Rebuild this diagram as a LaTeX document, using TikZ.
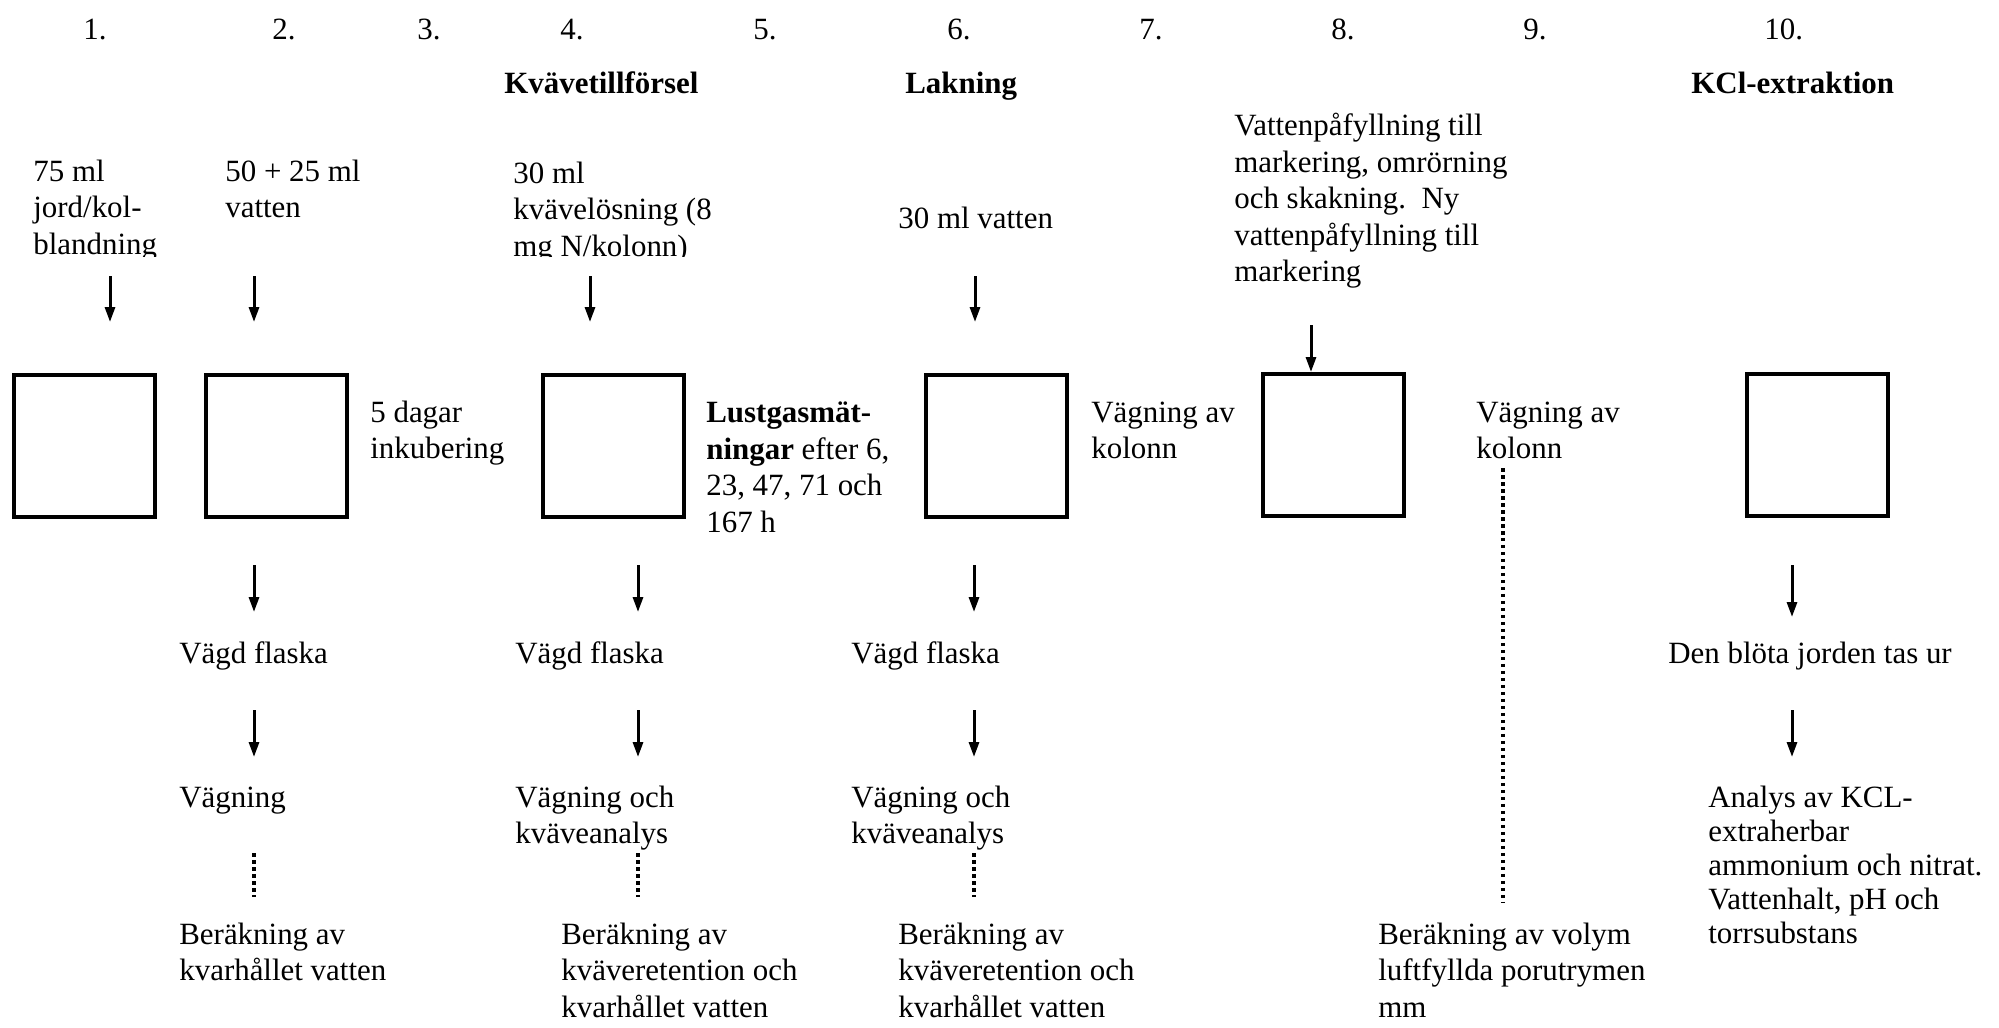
\documentclass[tikz,border=0pt]{standalone}
\usepackage{fontspec}
\setmainfont{Liberation Serif}
\usetikzlibrary{arrows.meta}

\begin{document}
\begin{tikzpicture}[x=0.02cm, y=-0.02cm,
  txt/.style={anchor=base west, inner sep=0pt, align=left, font=\fontsize{17.6pt}{20.8pt}\selectfont},
  fet/.style={txt, font=\fontsize{17.6pt}{20.8pt}\selectfont\bfseries},
  tett/.style={txt, font=\fontsize{17.6pt}{19.3pt}\selectfont},
  kolonn/.style={draw, line width=0.08cm, minimum width=2.82cm, minimum height=2.84cm, inner sep=0pt},
  pil/.style={-{Triangle[length=0.3cm,width=0.2cm]}, line width=0.06cm},
  prick/.style={line width=0.075cm, dash pattern=on 0.07cm off 0.07cm}]

  \useasboundingbox (0,0) rectangle (1999,1028);

  % --- steg 1-10 ---
  \foreach \nr/\x in {1/83,2/272,3/417,4/560,5/753,6/947,7/1139,8/1331,9/1523,10/1764}
    \node[txt] (n\nr) at (\x,39) {\nr.};

  % --- rubriker ---
  \node[fet] (h4) at (504,93) {Kvävetillförsel};
  \node[fet] (h6) at (905,93) {Lakning};
  \node[fet] (h10) at (1691,93) {KCl-extraktion};

  % --- tillsatser (nodes sit on the baseline of their last line) ---
  \begin{scope}
    \clip (0,0) rectangle (800,256);
    \node[txt] (t1) at (33,254.4) {75 ml\\jord/kol-\\blandning};
    \node[txt] (t4) at (513,256.4) {30 ml\\kvävelösning (8\\mg N/kolonn)};
  \end{scope}
  \node[txt] (t2) at (225,217.7) {50 + 25 ml\\vatten};
  \node[txt] (t6) at (898,228) {30 ml vatten};
  \node[txt] (t8) at (1234,281.8) {Vattenpåfyllning till\\markering, omrörning\\och skakning.\ \ Ny\\vattenpåfyllning till\\markering};

  % --- kolonner ---
  \node[kolonn] (b1) at (84.5,446) {};
  \node[kolonn] (b2) at (276.5,446) {};
  \node[kolonn] (b4) at (613.5,446) {};
  \node[kolonn] (b6) at (996.5,446) {};
  \node[kolonn] (b8) at (1333.5,445) {};
  \node[kolonn] (b10) at (1817,445) {};

  \node[txt] (s3) at (370,458.7) {5 dagar\\inkubering};
  \node[txt] (s5) at (706,532.1) {\textbf{Lustgasmät-}\\\textbf{ningar} efter 6,\\23, 47, 71 och\\167 h};
  \node[txt] (s7) at (1091,458.7) {Vägning av\\kolonn};
  \node[txt] (s9) at (1476,458.7) {Vägning av\\kolonn};

  % --- efter kolonnerna ---
  \node[txt] (f2) at (179,663) {Vägd flaska};
  \node[txt] (f4) at (515,663) {Vägd flaska};
  \node[txt] (f6) at (851,663) {Vägd flaska};
  \node[txt] (f10) at (1668,663) {Den blöta jorden tas ur};

  \node[txt] (g2) at (179,807) {Vägning};
  \node[txt] (g4) at (515,843.7) {Vägning och\\kväveanalys};
  \node[txt] (g6) at (851,843.7) {Vägning och\\kväveanalys};
  \node[tett] (g10) at (1708,943) {Analys av KCL-\\extraherbar\\ammonium och nitrat.\\Vattenhalt, pH och\\torrsubstans};

  \node[txt] (r2) at (179,980.7) {Beräkning av\\kvarhållet vatten};
  \node[txt] (r4) at (561,1017.4) {Beräkning av\\kväveretention och\\kvarhållet vatten};
  \node[txt] (r6) at (898,1017.4) {Beräkning av\\kväveretention och\\kvarhållet vatten};
  \node[txt] (r9) at (1378,1017.4) {Beräkning av volym\\luftfyllda porutrymen\\mm};

  % --- pilar ---
  \foreach \nm/\x/\ya/\yb in {a1/110/276/322, a2/254/276/322, a4/590/276/322, a6/975/276/322,
      v2/254/565/612, v4/638/565/612, v6/974/565/612, v10/1792/565/617,
      w2/254/710/757, w4/638/710/757, w6/974/710/757, w10/1792/710/757} {
    \coordinate (\nm-top) at (\x,\ya);
    \coordinate (\nm-bot) at (\x,\yb);
    \draw[pil] (\nm-top) -- (\nm-bot);
  }
  \coordinate (a8-top) at (1311,325);
  \draw[pil] (a8-top) -- (a8-top |- b8.north);

  % --- prickade linjer ---
  \foreach \nm/\x/\ya/\yb in {d2/254/853/897, d4/638/853/897, d6/974/853/897, d9/1503/468/903} {
    \coordinate (\nm-top) at (\x,\ya);
    \coordinate (\nm-bot) at (\x,\yb);
    \draw[prick] (\nm-top) -- (\nm-bot);
  }
\end{tikzpicture}
\end{document}
